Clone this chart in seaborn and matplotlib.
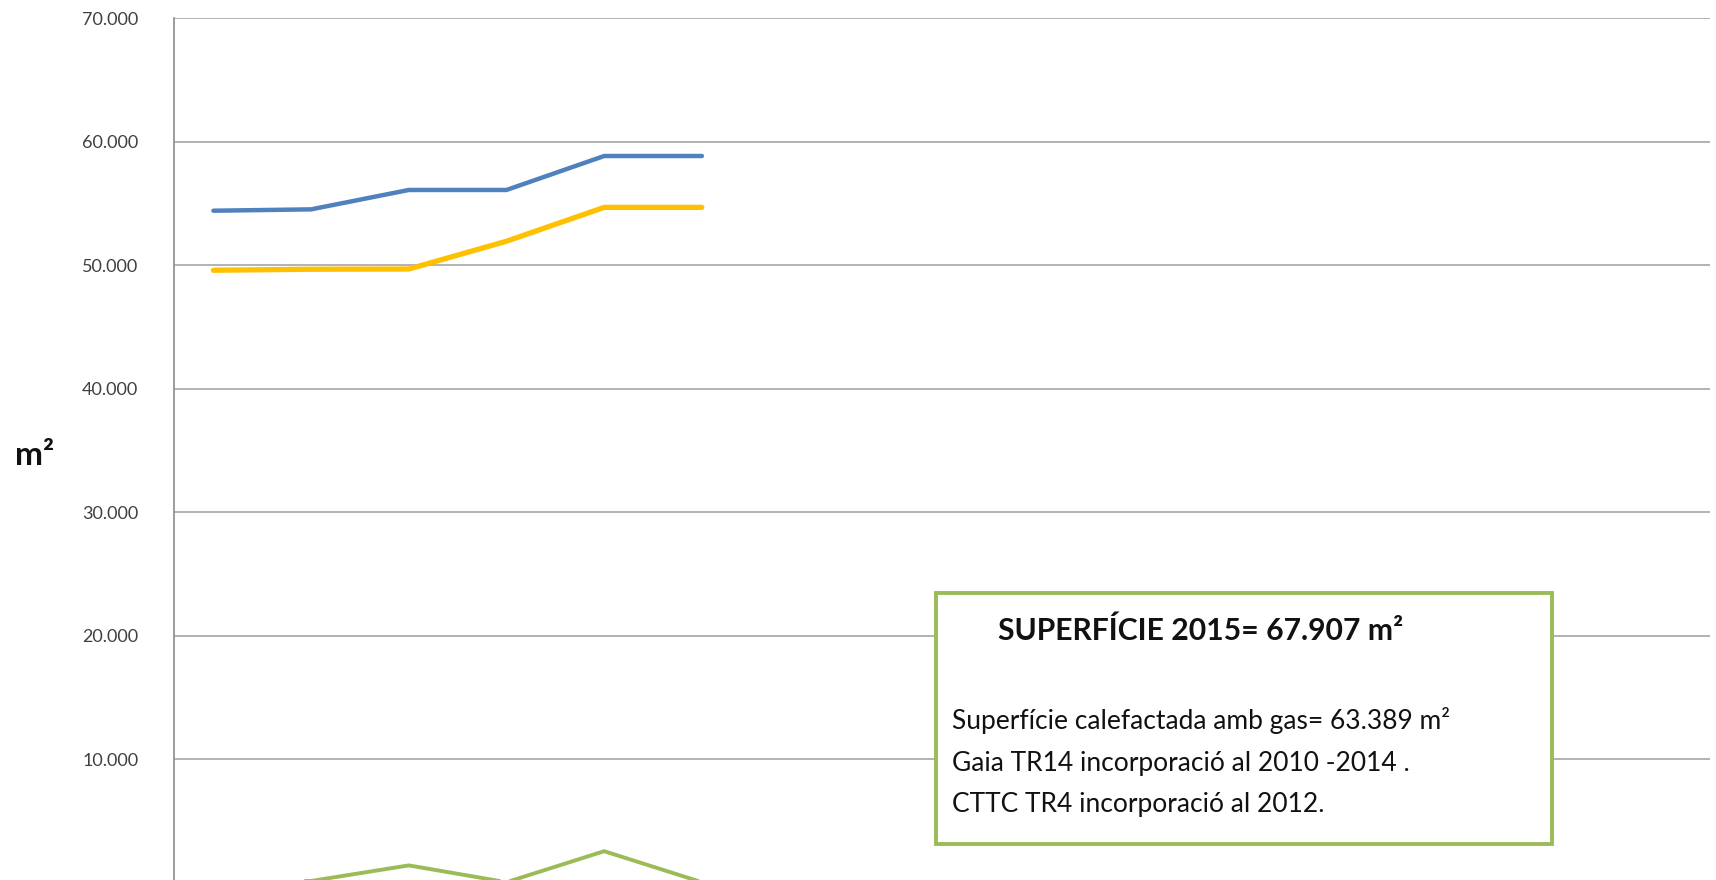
import matplotlib
matplotlib.use("Agg")
import matplotlib.pyplot as plt
import matplotlib.ticker as mticker
import seaborn as sns
import pandas as pd

# values (m2 per year)
years = [2010, 2011, 2012, 2013, 2014, 2015]
superficie_total = [54420, 54530, 56100, 56100, 58850, 58850]
superficie_gas = [49600, 49680, 49700, 51950, 54690, 54690]
incorporacions = [100, 150, 1410, 50, 2560, 50]
ytick_values = [10000, 20000, 30000, 40000, 50000, 60000, 70000]

series_names = ["Superfície total", "Superfície calefactada amb gas", "Incorporacions"]
series_colors = ["#4F81BD", "#FFC000", "#9BBB59"]
series_widths = [3.2, 3.8, 2.8]

df = pd.DataFrame({
    "any": years * 3,
    "m2": superficie_total + superficie_gas + incorporacions,
    "serie": [series_names[0]] * 6 + [series_names[1]] * 6 + [series_names[2]] * 6,
})

sns.set_style("white")
plt.rcParams["font.family"] = ["Lato", "DejaVu Sans"]

fig = plt.figure(figsize=(17.16, 8.8), dpi=100)
ax = fig.add_axes([0.1016, -0.0032, 0.8949, 0.9824])

for name, col, lw in zip(series_names, series_colors, series_widths):
    sns.lineplot(data=df[df["serie"] == name], x="any", y="m2", color=col,
                 linewidth=lw, ax=ax, legend=False)
for line in ax.lines:
    line.set_solid_capstyle("round")
    line.set_solid_joinstyle("round")

ax.set_xlim(years[0] - 0.40, years[0] + 15.32)
ax.set_ylim(0, 70000)
ax.set_yticks(ytick_values)
ax.yaxis.set_major_formatter(mticker.FuncFormatter(lambda v, p: f"{int(v):,}".replace(",", ".")))
ax.grid(axis="y", color="#a6a6a6", linewidth=1.2)
ax.set_axisbelow(True)
ax.set_xticks([])
ax.set_xlabel("")
ax.set_ylabel("")
ax.tick_params(axis="y", length=0, pad=26, labelsize=13, labelcolor="#404040")
for s in ["top", "right", "bottom"]:
    ax.spines[s].set_visible(False)
ax.spines["left"].set_color("#8c8c8c")
ax.spines["left"].set_linewidth(1.2)

fig.text(15 / 1716, 1 - 455 / 880, "m²", fontsize=24, fontweight="bold",
         ha="left", va="center", color="#111111")

# text box
box = plt.Rectangle((936 / 1716, 1 - 844 / 880), (1552 - 936) / 1716, (844 - 593) / 880,
                    transform=fig.transFigure, facecolor="white", edgecolor="#9BBB59",
                    linewidth=2.8, zorder=5)
fig.patches.append(box)
fig.text(998 / 1716, 1 - 631 / 880, "SUPERFÍCIE 2015= 67.907 m²", fontsize=21.7,
         fontweight="bold", ha="left", va="center", color="#111111", zorder=6)
body = ["Superfície calefactada amb gas= 63.389 m²",
        "Gaia TR14 incorporació al 2010 -2014 .",
        "CTTC TR4 incorporació al 2012."]
for txt, yy in zip(body, [720, 763, 804]):
    fig.text(952 / 1716, 1 - yy / 880, txt, fontsize=19, ha="left", va="center",
             color="#111111", zorder=6)

fig.savefig("out.png", dpi=100)
